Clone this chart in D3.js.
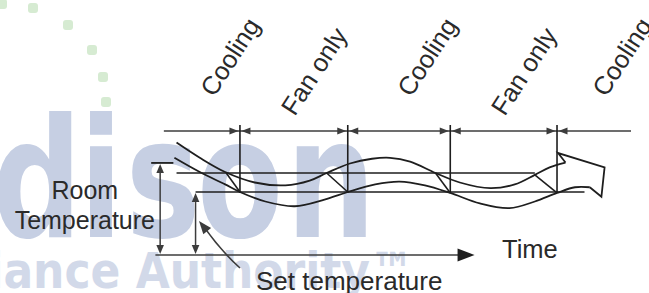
<!DOCTYPE html>
<html>
<head>
<meta charset="utf-8">
<script src="https://cdn.jsdelivr.net/npm/d3@7"></script>
<style>
body { margin: 0; background: #fff; }
svg { display: block; font-family: "Liberation Sans", Arial, sans-serif; }
</style>
</head>
<body>
<svg id="chart"></svg>
<script>
// phases along the top of the diagram (time units)
var phaseNames = ["Cooling", "Fan only", "Cooling", "Fan only", "Cooling"];
var phaseEdges = [0.8, 8.0, 18.2, 27.9, 38.0, 45.0];

// temperatures (deg C)
var setTemp = 24.0, cutInTemp = 25.0, roomTemp = 25.53;

// [time, temp]
var upperWave = [[2.0, 26.6], [4.2, 25.8], [6.6, 25.05], [9.4, 24.5], [12.3, 24.35], [14.6, 24.6],
  [16.2, 25.0], [18.4, 25.5], [20.5, 25.75], [22.2, 25.8], [24.1, 25.6], [26.5, 25.0],
  [28.8, 24.5], [31.7, 24.2], [34.0, 24.4], [35.9, 24.9], [37.3, 25.3], [38.8, 25.55]];
var lowerWave = [[1.8, 25.8], [4.2, 25.05], [6.6, 24.4], [8.0, 24.0], [10.4, 23.5], [13.2, 23.25],
  [16.0, 23.6], [18.2, 24.0], [20.8, 24.4], [23.1, 24.55], [25.5, 24.35], [27.9, 23.95],
  [30.7, 23.4], [33.5, 23.15], [35.9, 23.5], [38.0, 23.95], [39.7, 24.25], [41.1, 24.25]];
var arrowTip = [[38.8, 25.55], [38.1, 26.05], [42.5, 25.3], [42.2, 23.75], [41.1, 24.25]];
var coolDrops = [[[6.7, 25.0], [8.0, 24.0]], [[16.2, 25.0], [18.2, 24.0]],
  [[26.5, 25.0], [27.9, 23.95]], [[35.9, 24.9], [38.0, 23.95]]];
var cutInSpan = [2.0, 35.9], setSpan = [3.8, 40.6], timeSpan = [0, 30.2];

// watermark
var logoDots = [[2, 4], [33, 8], [68, 25], [92, 50], [103, 77], [106, 102], [100, 127]];
var logoLetters = ["d", "i", "s", "o", "n"];
var logoCenters = [37, 101, 163, 240, 331];

var W = 649, H = 293;
var svg = d3.select("#chart").attr("width", W).attr("height", H);

var x = d3.scaleLinear().domain([0, 45]).range([155.4, 631]);
var y = d3.scaleLinear().domain([24, 25]).range([192, 173]);
var baseY = 255, rowY = 131, ink = "#1e1e1e", grey = "#3c3c3c";

// ---- watermark
var wm = svg.append("g");
wm.selectAll("rect").data(logoDots).enter().append("rect")
  .attr("x", d => d[0] - 5).attr("y", d => d[1] - 5)
  .attr("width", 10).attr("height", 10).attr("rx", 3)
  .attr("fill", "#d6ebd2");
var sx = 0.76;
wm.append("g").attr("transform", "translate(0,237) scale(" + sx + ",1)")
  .selectAll("text").data(logoLetters).enter().append("text")
  .attr("x", (d, i) => logoCenters[i] / sx).attr("text-anchor", "middle")
  .style("font-family", "'DejaVu Sans'").style("font-weight", "bold")
  .style("font-size", "165px").attr("fill", "#c6cfe3")
  .text(d => d);
wm.append("text")
  .attr("transform", "translate(414,288) scale(0.88,1)")
  .attr("text-anchor", "end")
  .style("font-family", "'DejaVu Sans'").style("font-weight", "bold")
  .style("font-size", "50px").attr("fill", "#d2d9e9")
  .text("Appliance Authority\u2122");

function head(g, tx, ty, ang, len, wid, col) {
  var c = Math.cos(ang), s = Math.sin(ang);
  var bx = tx - len * c, by = ty - len * s;
  g.append("path")
    .attr("d", "M" + tx + "," + ty + "L" + (bx - wid * s) + "," + (by + wid * c) +
      "L" + (bx + wid * s) + "," + (by - wid * c) + "Z")
    .attr("fill", col);
}

var g = svg.append("g");

// ---- top phase arrows and dividers
phaseNames.forEach(function(name, i) {
  var xa = x(phaseEdges[i]), xb = x(phaseEdges[i + 1]);
  g.append("line").attr("x1", xa).attr("x2", xb).attr("y1", rowY).attr("y2", rowY)
    .attr("stroke", grey).attr("stroke-width", 1.5);
  if (i > 0) head(g, xa + 1.5, rowY, Math.PI, 9, 3.6, grey);
  if (i < phaseNames.length - 1) head(g, xb - 1.5, rowY, 0, 9, 3.6, grey);
  var mid = x((phaseEdges[i] + phaseEdges[i + 1]) / 2);
  var cool = name == "Cooling";
  g.append("text")
    .attr("transform", "translate(" + (mid + (cool ? 12 : 1)) + "," + (cool ? 98 : 117) + ") rotate(-57)")
    .style("font-size", "25.5px").attr("fill", "#2a2a2a")
    .text(name);
});
phaseEdges.slice(1, -1).forEach(function(e) {
  g.append("line").attr("x1", x(e)).attr("x2", x(e)).attr("y1", rowY - 6).attr("y2", y(setTemp) + 1)
    .attr("stroke", ink).attr("stroke-width", 1.6);
});

// ---- reference levels
g.append("line").attr("x1", x(cutInSpan[0])).attr("x2", x(cutInSpan[1]))
  .attr("y1", y(cutInTemp)).attr("y2", y(cutInTemp)).attr("stroke", ink).attr("stroke-width", 1.6);
g.append("line").attr("x1", x(setSpan[0])).attr("x2", x(setSpan[1]))
  .attr("y1", y(setTemp)).attr("y2", y(setTemp)).attr("stroke", ink).attr("stroke-width", 1.6);

// ---- waves
var line = d3.line().x(d => x(d[0])).y(d => y(d[1])).curve(d3.curveCatmullRom.alpha(0.5));
var straight = d3.line().x(d => x(d[0])).y(d => y(d[1]));
[upperWave, lowerWave].forEach(function(w) {
  g.append("path").attr("d", line(w)).attr("fill", "none")
    .attr("stroke", ink).attr("stroke-width", 1.8);
});
g.append("path").attr("d", straight(arrowTip)).attr("fill", "none")
  .attr("stroke", ink).attr("stroke-width", 1.8).attr("stroke-linejoin", "miter");
coolDrops.forEach(function(d) {
  g.append("path").attr("d", straight(d)).attr("stroke", ink).attr("stroke-width", 1.6);
});

// ---- room temperature dimension
g.append("line").attr("x1", x(-0.4)).attr("x2", x(1.7)).attr("y1", y(roomTemp)).attr("y2", y(roomTemp))
  .attr("stroke", ink).attr("stroke-width", 1.8);
g.append("line").attr("x1", x(0.45)).attr("x2", x(0.45)).attr("y1", y(roomTemp) + 4).attr("y2", baseY - 4)
  .attr("stroke", grey).attr("stroke-width", 1.5);
head(g, x(0.45), y(roomTemp) + 1, -Math.PI / 2, 9, 3.8, grey);
head(g, x(0.45), baseY - 1, Math.PI / 2, 9, 3.8, grey);

// ---- set temperature dimension
g.append("line").attr("x1", x(setSpan[0])).attr("x2", x(setSpan[0])).attr("y1", y(setTemp) + 4).attr("y2", baseY - 4)
  .attr("stroke", grey).attr("stroke-width", 1.5);
head(g, x(setSpan[0]), y(setTemp) + 1, -Math.PI / 2, 9, 3.8, grey);
head(g, x(setSpan[0]), baseY - 1, Math.PI / 2, 9, 3.8, grey);

// ---- time axis
g.append("line").attr("x1", x(timeSpan[0])).attr("x2", x(timeSpan[1]) - 10).attr("y1", baseY).attr("y2", baseY)
  .attr("stroke", grey).attr("stroke-width", 1.5);
head(g, x(timeSpan[1]), baseY, 0, 17, 6.5, ink);

// ---- pointer to set temperature
var p0 = [240, 268], p1 = [199, 221];
g.append("path").attr("d", "M" + p0 + "Q" + [222, 252] + " " + [p1[0] + 5, p1[1] + 6])
  .attr("fill", "none").attr("stroke", grey).attr("stroke-width", 1.6);
head(g, p1[0], p1[1], Math.atan2(p1[1] - 248, p1[0] - 221), 13, 5, grey);

// ---- labels
var tEl = g.append("text").attr("x", 155).attr("y", 229).attr("text-anchor", "end")
  .style("font-size", "25px").attr("fill", "#2a2a2a").text("Temperature");
var tw = tEl.node().getComputedTextLength();
g.append("text").attr("x", 155 - tw / 2).attr("y", 199).attr("text-anchor", "middle")
  .style("font-size", "25px").attr("fill", "#2a2a2a").text("Room");
g.append("text").attr("x", 502).attr("y", 258)
  .style("font-size", "25.5px").attr("fill", "#2a2a2a").text("Time");
g.append("text").attr("x", 256).attr("y", 290)
  .style("font-size", "26px").attr("fill", "#2a2a2a").text("Set temperature");
</script>
</body>
</html>
